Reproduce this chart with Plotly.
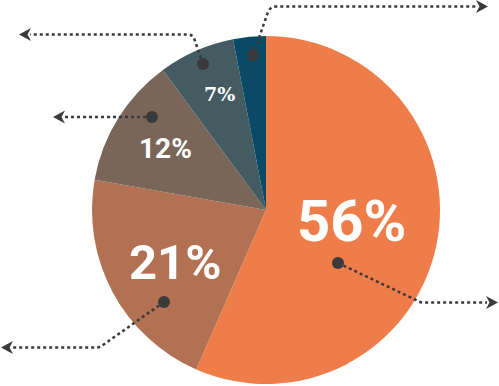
import plotly.graph_objects as go

W, H = 499, 386

# ---- data ----
segments = ["A", "B", "C", "D", "E"]
values = [56, 21, 12, 7, 3]
shown_labels = [True, True, True, True, False]
colors = ["#EF7D4A", "#B17152", "#7A6659", "#445B62", "#0A4A66"]

# ---- label styling (pixel positions, font sizes) ----
label_pos = [(351, 221), (175, 262), (165, 148), (219, 94)]
label_size = [58, 49, 28, 19]
label_family = ["Roboto", "Roboto", "Roboto", "DejaVu Serif"]

# leader lines (pixel coords): dot, path, arrow tip, direction
leaders = [
    dict(dot=(338, 263), path="M338,263 L416,300 Q419,302.5 424,302.5 L487,302.5", tip=(498, 302.5), d=1),
    dict(dot=(164, 302), path="M164,302 L103,345 Q100,347.5 96,347.5 L12,347.5", tip=(1, 347.5), d=-1),
    dict(dot=(152, 117), path="M152,117 L64,117", tip=(53, 117), d=-1),
    dict(dot=(203, 64), path="M203,64 L194,38 Q192,34.5 188,34.5 L30,34.5", tip=(19, 34.5), d=-1),
    dict(dot=(253, 55), path="M253,55 L268,12 Q270.5,6.5 276,6.5 L477,6.5", tip=(488, 6.5), d=1),
]

LINE = "#3A3A3C"

cx, cy, R = 266, 210, 174


def px(x):
    return x / W


def py(y):
    return 1 - y / H


fig = go.Figure()
fig.add_trace(go.Pie(
    labels=segments,
    values=values,
    sort=False,
    direction="clockwise",
    rotation=0,
    marker=dict(colors=colors, line=dict(width=0)),
    textinfo="none",
    hoverinfo="skip",
    showlegend=False,
    domain=dict(x=[px(cx - R), px(cx + R)], y=[py(cy + R), py(cy - R)]),
))

# invisible pixel-space axes for shapes
fig.add_trace(go.Scatter(x=[0, W], y=[0, H], mode="markers", marker=dict(opacity=0),
                         hoverinfo="skip", showlegend=False))

shapes = []
for ld in leaders:
    shapes.append(dict(type="path", path=ld["path"], xref="x", yref="y", layer="above",
                       line=dict(color=LINE, width=2.5, dash="dot")))
    dx, dy = ld["dot"]
    shapes.append(dict(type="circle", xref="x", yref="y", layer="above",
                       x0=dx - 6, x1=dx + 6, y0=dy - 6, y1=dy + 6,
                       fillcolor=LINE, line=dict(width=0)))
    tx, ty = ld["tip"]
    d = ld["d"]
    p = (f"M{tx},{ty} L{tx - d*12},{ty - 6.5} L{tx - d*8.5},{ty} "
         f"L{tx - d*12},{ty + 6.5} Z")
    shapes.append(dict(type="path", path=p, xref="x", yref="y", layer="above",
                       fillcolor=LINE, line=dict(width=0)))

annotations = []
i = 0
for v, show in zip(values, shown_labels):
    if not show:
        continue
    x, y = label_pos[i]
    annotations.append(dict(
        text=f"{v}%", x=x, y=y, xref="x", yref="y", showarrow=False,
        xanchor="center", yanchor="middle",
        font=dict(family=label_family[i], size=label_size[i], color="white", weight="bold"),
    ))
    i += 1

fig.update_layout(
    width=W, height=H,
    margin=dict(l=0, r=0, t=0, b=0),
    paper_bgcolor="white", plot_bgcolor="rgba(0,0,0,0)",
    xaxis=dict(range=[0, W], visible=False, fixedrange=True, domain=[0, 1]),
    yaxis=dict(range=[H, 0], visible=False, fixedrange=True, domain=[0, 1]),
    shapes=shapes,
    annotations=annotations,
)

fig.write_html("out.html", config=dict(displayModeBar=False))
